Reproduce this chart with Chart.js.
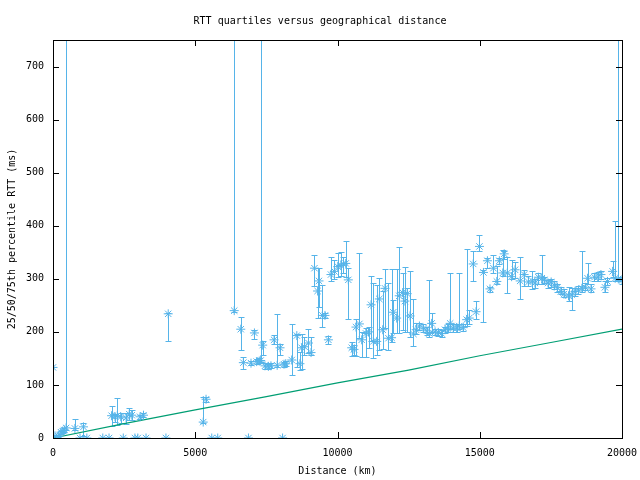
<!DOCTYPE html>
<html>
<head>
<meta charset="utf-8">
<script src="https://cdn.jsdelivr.net/npm/chart.js@4"></script>
<style>
  html, body { margin: 0; padding: 0; background: #fff; }
  #wrap { width: 640px; height: 480px; }
</style>
</head>
<body>
<div id="wrap"><canvas id="rttChart"></canvas></div>
<script>
// distance (km) and RTT quartiles (ms)
const distKm = [0, 70, 140, 190, 280, 340, 400, 460, 770, 950, 1070, 1190, 1750, 1970, 2060, 2180, 2260, 2380, 2470, 2570,
    2680, 2770, 2880, 2980, 3060, 3180, 3270, 3970, 4050, 5280, 5380, 5580, 5790, 6370, 6600, 6690, 6870, 6960, 7080, 7160,
    7250, 7300, 7370, 7450, 7570, 7660, 7770, 7880, 7980, 8070, 8120, 8180, 8390, 8570, 8680, 8740, 8840, 8980, 9070, 9190,
    9300, 9350, 9470, 9560, 9680, 9770, 9890, 10010, 10120, 10210, 10290, 10380, 10500, 10580, 10650, 10770, 10850, 11000, 11090, 11180,
    11260, 11380, 11470, 11590, 11670, 11790, 11900, 11960, 12080, 12170, 12290, 12370, 12450, 12550, 12670, 12760, 12880, 13020, 13140, 13230,
    13310, 13430, 13540, 13660, 13780, 13870, 13960, 14070, 14190, 14280, 14420, 14540, 14630, 14770, 14870, 14990, 15130, 15270, 15360, 15480,
    15600, 15690, 15810, 15860, 15970, 16120, 16240, 16420, 16560, 16710, 16850, 16940, 17060, 17180, 17270, 17400, 17510, 17620, 17730, 17850,
    17960, 18120, 18240, 18350, 18470, 18590, 18710, 18790, 18910, 19030, 19150, 19260, 19400, 19490, 19670, 19760, 19870, 20000];
const q25 = [133, 2, 0, 2, 8, 10, 12, 15, 15, 0, 4, 0, 0, 0, 23, 30, 25, 28, 0, 26,
    34, 34, 0, 0, 36, 39, 0, 0, 183, 28, 68, 0, 0, 238, 166, 130, 0, 137, 187, 140,
    141, 143, 157, 130, 130, 131, 177, 134, 157, 0, 134, 135, 119, 134, 128, 130, 157, 161, 157, 287,
    226, 246, 209, 226, 178, 296, 300, 304, 306, 310, 304, 224, 155, 157, 155, 188, 152, 152, 170, 182,
    150, 157, 166, 168, 207, 165, 180, 198, 198, 198, 204, 199, 199, 190, 174, 196, 204, 200, 195, 190,
    200, 194, 193, 190, 198, 200, 205, 200, 200, 205, 202, 211, 215, 295, 225, 353, 219, 320, 276, 311,
    290, 328, 306, 338, 274, 300, 302, 262, 287, 287, 281, 283, 290, 290, 292, 283, 285, 280, 275, 271,
    266, 258, 242, 268, 272, 275, 278, 290, 275, 296, 296, 300, 276, 288, 304, 295, 296, 290];
const median = [133, 4, 0, 3, 11, 13, 15, 19, 18, 0, 21, 0, 0, 0, 42, 40, 42, 40, 0, 38,
    45, 43, 0, 0, 40, 43, 0, 0, 234, 30, 73, 0, 0, 240, 205, 142, 0, 141, 198, 144,
    145, 146, 175, 136, 135, 136, 185, 137, 170, 0, 139, 140, 147, 193, 140, 170, 172, 179, 161, 320,
    277, 296, 231, 231, 185, 308, 314, 323, 325, 328, 329, 298, 170, 167, 209, 215, 185, 197, 200, 251,
    182, 182, 262, 204, 282, 188, 189, 237, 226, 268, 274, 258, 272, 230, 196, 204, 211, 207, 202, 197,
    216, 200, 199, 197, 204, 207, 216, 207, 207, 211, 208, 223, 226, 328, 238, 361, 312, 334, 281, 320,
    295, 334, 311, 347, 311, 304, 317, 296, 308, 294, 296, 292, 303, 301, 298, 292, 294, 288, 284, 276,
    271, 268, 270, 276, 279, 282, 284, 301, 281, 303, 303, 308, 284, 295, 314, 301, 300, 297];
const q75 = [133, 6, 0, 5, 14, 16, 18, 900, 35, 0, 28, 0, 0, 0, 61, 45, 75, 48, 0, 47,
    56, 53, 0, 0, 44, 47, 0, 0, 236, 78, 78, 0, 0, 1000, 228, 153, 0, 146, 204, 148,
    150, 1000, 182, 142, 140, 141, 194, 233, 178, 0, 144, 145, 214, 196, 163, 196, 190, 205, 191, 345,
    321, 321, 289, 236, 192, 342, 336, 348, 350, 342, 371, 320, 180, 175, 224, 348, 200, 207, 210, 306,
    293, 289, 301, 277, 318, 293, 318, 260, 318, 360, 311, 323, 282, 314, 262, 216, 216, 214, 210, 297,
    236, 206, 206, 204, 210, 214, 311, 214, 214, 311, 214, 356, 242, 353, 258, 383, 317, 340, 285, 345,
    325, 340, 355, 352, 342, 335, 332, 342, 317, 305, 315, 300, 310, 345, 303, 298, 300, 296, 290, 285,
    280, 285, 282, 282, 286, 352, 292, 330, 290, 310, 312, 314, 296, 302, 334, 409, 1000, 303];

// reference line (green)
const refDist = [0, 2500, 5000, 7500, 10000, 12500, 15000, 17500, 20000];
const refRtt = [0, 27, 53, 78, 104, 128, 155, 180, 205];

const blue = '#56b4e9';
const green = '#009e73';
const fontMono = {family: "'DejaVu Sans Mono', monospace", size: 10, weight: 'normal'};

const errorBars = {
    id: 'errorBars',
    beforeDatasetsDraw(chart) {
        const {ctx, chartArea, scales: {x, y}} = chart;
        ctx.save();
        ctx.beginPath();
        ctx.rect(chartArea.left, chartArea.top, chartArea.width, chartArea.height);
        ctx.clip();
        ctx.strokeStyle = blue;
        ctx.lineWidth = 1;
        ctx.beginPath();
        distKm.forEach((d, i) => {
            if (q25[i] === q75[i]) return;
            const px = Math.round(x.getPixelForValue(d)) + 0.5;
            const lo = Math.round(y.getPixelForValue(q25[i])) + 0.5;
            const hi = Math.round(y.getPixelForValue(q75[i])) + 0.5;
            ctx.moveTo(px, lo);
            ctx.lineTo(px, hi);
            ctx.moveTo(px - 3, lo);
            ctx.lineTo(px + 3, lo);
            ctx.moveTo(px - 3, hi);
            ctx.lineTo(px + 3, hi);
        });
        ctx.stroke();
        ctx.restore();
    }
};

// gnuplot-like frame with inward ticks on all four sides
const frame = {
    id: 'frame',
    afterDraw(chart) {
        const {ctx, chartArea: a, scales: {x, y}} = chart;
        ctx.save();
        ctx.strokeStyle = '#000';
        ctx.lineWidth = 1;
        ctx.beginPath();
        x.ticks.forEach(t => {
            const px = Math.round(x.getPixelForValue(t.value)) + 0.5;
            ctx.moveTo(px, a.bottom);
            ctx.lineTo(px, a.bottom - 6);
            ctx.moveTo(px, a.top);
            ctx.lineTo(px, a.top + 6);
        });
        y.ticks.forEach(t => {
            const py = Math.round(y.getPixelForValue(t.value)) + 0.5;
            ctx.moveTo(a.left, py);
            ctx.lineTo(a.left + 6, py);
            ctx.moveTo(a.right, py);
            ctx.lineTo(a.right - 6, py);
        });
        ctx.stroke();
        ctx.strokeRect(Math.round(a.left) + 0.5, Math.round(a.top) + 0.5,
            Math.round(a.width), Math.round(a.height));
        ctx.restore();
    }
};

Chart.defaults.color = '#000';
Chart.defaults.font = fontMono;

new Chart(document.getElementById('rttChart'), {
    type: 'scatter',
    data: {
        datasets: [
            {
                label: 'median',
                data: distKm.map((d, i) => ({x: d, y: median[i]})),
                pointStyle: 'star',
                radius: 4.5,
                borderColor: blue,
                backgroundColor: blue,
                borderWidth: 1
            },
            {
                label: 'reference',
                type: 'line',
                data: refDist.map((d, i) => ({x: d, y: refRtt[i]})),
                borderColor: green,
                borderWidth: 1.2,
                pointRadius: 0,
                fill: false
            }
        ]
    },
    options: {
        responsive: true,
        maintainAspectRatio: false,
        animation: false,
        layout: {padding: 0},
        plugins: {
            legend: {display: false},
            tooltip: {enabled: false},
            title: {
                display: true,
                text: 'RTT quartiles versus geographical distance',
                font: fontMono,
                color: '#000',
                padding: {top: 15, bottom: 13}
            }
        },
        scales: {
            x: {
                type: 'linear',
                min: 0,
                max: 20000,
                grid: {display: false, drawTicks: false},
                border: {display: false},
                ticks: {stepSize: 5000, padding: 9, maxRotation: 0, font: fontMono, color: '#000',
                    callback: v => String(v)},
                title: {display: true, text: 'Distance (km)', font: fontMono, color: '#000', padding: {top: 0, bottom: 3}},
                afterFit: s => { s.height = 42; s.paddingRight = 18; s.paddingLeft = 0; }
            },
            y: {
                type: 'linear',
                min: 0,
                max: 750,
                grid: {display: false, drawTicks: false},
                border: {display: false},
                ticks: {stepSize: 100, padding: 9, font: fontMono, color: '#000', callback: v => String(v)},
                afterBuildTicks: s => { s.ticks = s.ticks.filter(t => t.value % 100 === 0); },
                title: {display: true, text: '25/50/75th percentile RTT (ms)', font: fontMono, color: '#000', padding: {top: 6, bottom: 0}},
                afterFit: s => { s.width = 53; }
            }
        }
    },
    plugins: [errorBars, frame]
});
</script>
</body>
</html>
